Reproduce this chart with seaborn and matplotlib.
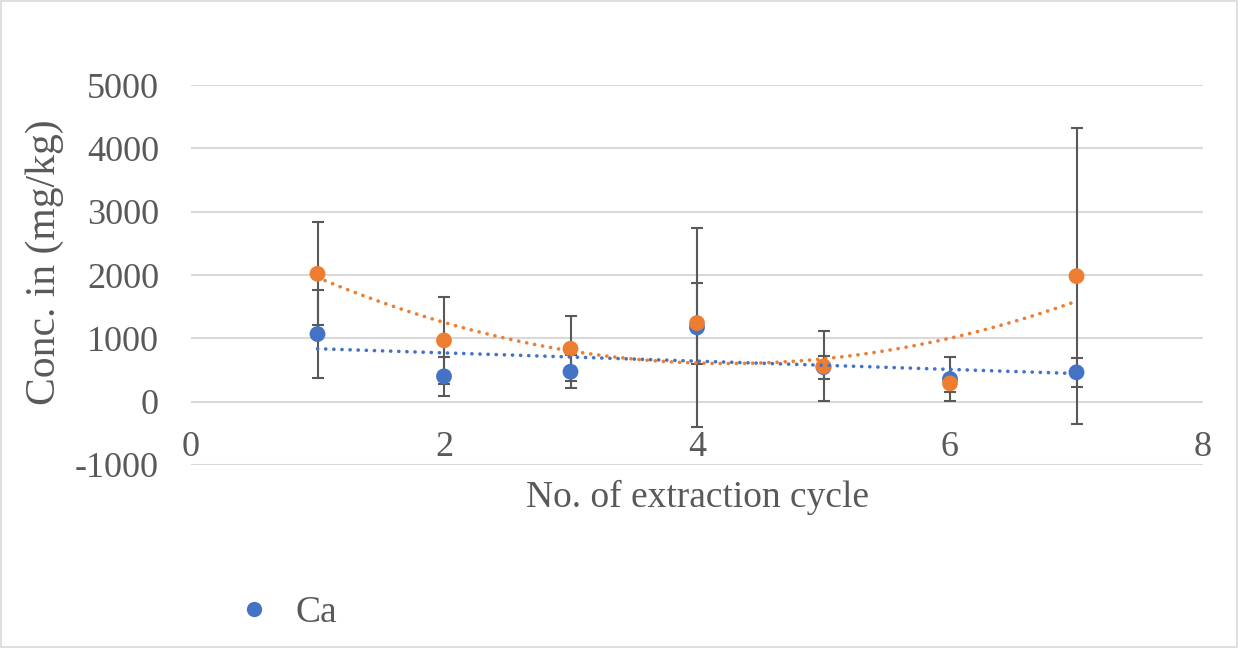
import numpy as np
import pandas as pd
import matplotlib
matplotlib.use("Agg")
import matplotlib.pyplot as plt
from matplotlib.lines import Line2D
from matplotlib.patches import Rectangle
import seaborn as sns

# ---- data ----
cycles = [1, 2, 3, 4, 5, 6, 7]
ca_mean = [1068, 400, 473, 1172, 545, 358, 463]
ca_err = [700, 310, 265, 1565, 180, 340, 225]
s2_mean = [2019, 967, 836, 1241, 557, 289, 1982]
s2_err = [810, 690, 510, 640, 552, 130, 2335]
y_ticks = [-1000, 0, 1000, 2000, 3000, 4000, 5000]
x_ticks = [0, 2, 4, 6, 8]

BLUE = "#4472C4"
ORANGE = "#ED7D31"
GRID = "#D9D9D9"
TXT = "#595959"

sns.set_theme(style="white")
plt.rcParams["font.family"] = ["Liberation Serif", "DejaVu Serif"]

df_ca = pd.DataFrame({"cycle": cycles, "conc": ca_mean})
df_s2 = pd.DataFrame({"cycle": cycles, "conc": s2_mean})

fig = plt.figure(figsize=(12.38, 6.48), dpi=100)
ax = fig.add_axes([191 / 1238, 1 - 465 / 648, (1203 - 191) / 1238, (465 - 85) / 648])

# gridlines
for yt in y_ticks:
    ax.axhline(yt, color=GRID, lw=1.5, zorder=0)

# error bars
ax.errorbar(cycles, ca_mean, yerr=ca_err, fmt="none", ecolor=TXT, elinewidth=1.5,
            capsize=4.5, capthick=1.5, zorder=2)
ax.errorbar(cycles, s2_mean, yerr=s2_err, fmt="none", ecolor=TXT, elinewidth=1.5,
            capsize=4.5, capthick=1.5, zorder=2)

# points
sns.scatterplot(data=df_ca, x="cycle", y="conc", color=BLUE, s=130, edgecolor="none",
                ax=ax, zorder=3, label="Ca", legend=False)
sns.scatterplot(data=df_s2, x="cycle", y="conc", color=ORANGE, s=130, edgecolor="none",
                ax=ax, zorder=4, legend=False)

# trend lines
dots = dict(lw=2.6, linestyle=(0, (0.05, 2.2)), dash_capstyle="round", zorder=5)
sns.regplot(data=df_ca, x="cycle", y="conc", order=1, scatter=False, ci=None,
            truncate=True, ax=ax, line_kws=dict(color=BLUE, **dots))
sns.regplot(data=df_s2, x="cycle", y="conc", order=2, scatter=False, ci=None,
            truncate=True, ax=ax, line_kws=dict(color=ORANGE, **dots))

ax.set_xlim(0, 8)
ax.set_ylim(-1000, 5000)
ax.set_xticks(x_ticks)
ax.set_yticks(y_ticks)
ax.set_xticklabels([str(v) for v in x_ticks])
ax.set_yticklabels([str(v) for v in y_ticks])

for s in ["top", "right", "left"]:
    ax.spines[s].set_visible(False)
ax.spines["bottom"].set_position(("data", 0))
ax.spines["bottom"].set_visible(False)

ax.tick_params(axis="x", length=0, pad=21, labelsize=26, labelcolor=TXT)
ax.tick_params(axis="y", length=0, pad=23, labelsize=26, labelcolor=TXT)

ax.set_xlabel("")
ax.set_ylabel("")
fig.text((527 + 868) / 2 / 1238, 1 - 497 / 648, "No. of extraction cycle",
         ha="center", va="center", fontsize=27, color=TXT)
fig.text(45 / 1238, 1 - 262 / 648, "Conc. in (mg/kg)", rotation=90,
         ha="center", va="center", fontsize=30, color=TXT)

# legend
handle = Line2D([], [], marker="o", linestyle="none", markersize=11,
                markerfacecolor=BLUE, markeredgecolor="none")
fig.legend(handles=[handle], labels=["Ca"], loc="center left",
           bbox_to_anchor=(226 / 1238, 1 - 613 / 648), frameon=False,
           fontsize=27, labelcolor=TXT, handletextpad=0.36, handlelength=1.5,
           borderpad=0, borderaxespad=0)

# chart border
fig.patches.append(Rectangle((0.0008, 0.0015), 0.9984, 0.997, transform=fig.transFigure,
                             fill=False, edgecolor=GRID, lw=1.2))

fig.savefig("out.png", dpi=100, facecolor="white")
